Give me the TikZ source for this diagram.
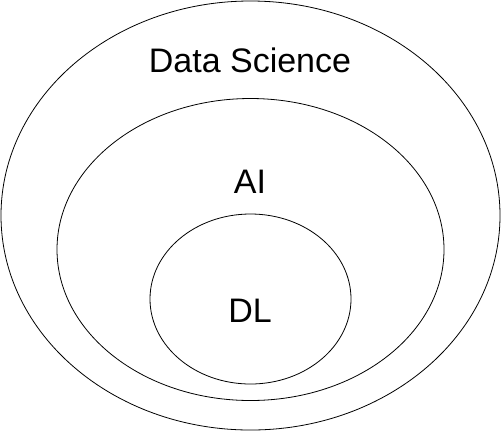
\documentclass[tikz,border=0pt]{standalone}
\usepackage{fontspec}
\setmainfont{Liberation Sans}
\usetikzlibrary{shapes.geometric}
\tikzstyle{set} = [ellipse, draw, line width=0.8pt, inner sep=0pt]
\tikzstyle{setname} = [anchor=base, inner sep=0pt, font=\fontsize{34}{41}\selectfont]

\begin{document}
\begin{tikzpicture}[x=1pt, y=-1pt]
        \useasboundingbox (0,0) rectangle (502,432);
        \node (ds) [set, minimum width=499pt, minimum height=429pt] at (250.5,215.5) {};
        \node (ai) [set, minimum width=387pt, minimum height=302pt] at (250.5,249.5) {};
        \node (dl) [set, minimum width=201pt, minimum height=170pt] at (250.5,299) {};
        \node (dstext) [setname] at (250,72) {Data Science};
        \node (aitext) [setname] at (250,193) {AI};
        \node (dltext) [setname] at (250,322) {DL};
    \end{tikzpicture}
\end{document}
